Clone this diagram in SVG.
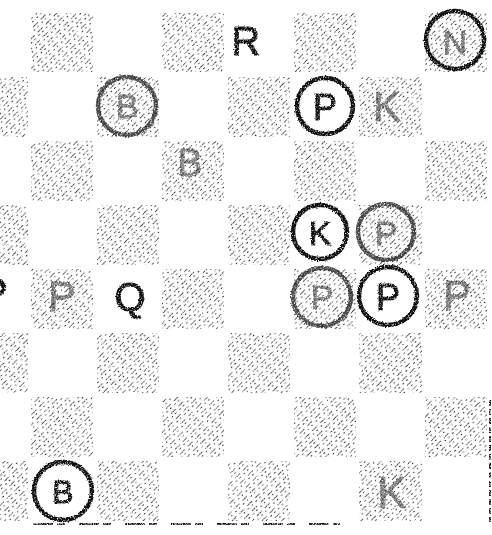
<svg xmlns="http://www.w3.org/2000/svg" width="492" height="535" viewBox="0 0 492 535">
<defs>
<pattern id="hatch" patternUnits="userSpaceOnUse" width="7" height="11" patternTransform="rotate(45)">
<line x1="0" y1="0" x2="0" y2="11" stroke="#111" stroke-width="1.5" stroke-dasharray="7 4"/>
<line x1="3.5" y1="2" x2="3.5" y2="9" stroke="#333" stroke-width="1.1" stroke-dasharray="2 3"/>
</pattern>
<filter id="grain" x="-10%" y="-10%" width="120%" height="120%">
<feTurbulence type="fractalNoise" baseFrequency="0.8" numOctaves="2" seed="4" result="n"/>
<feColorMatrix in="n" type="matrix" values="0 0 0 0 0  0 0 0 0 0  0 0 0 0 0  3 0 0 0 -0.75" result="m"/>
<feComposite in="SourceGraphic" in2="m" operator="in"/>
</filter>
<filter id="ink" x="-10%" y="-10%" width="120%" height="120%">
<feTurbulence type="fractalNoise" baseFrequency="0.7" numOctaves="2" seed="9" result="n"/>
<feDisplacementMap in="SourceGraphic" in2="n" scale="3" xChannelSelector="R" yChannelSelector="G" result="d"/>
<feColorMatrix in="n" type="matrix" values="0 0 0 0 0  0 0 0 0 0  0 0 0 0 0  3 0 0 0 -0.45" result="m"/>
<feComposite in="d" in2="m" operator="in"/>
</filter>
</defs>
<style>
.dk{fill:url(#hatch)}
.pc{font-family:"Liberation Sans","DejaVu Sans",sans-serif;fill:#111;stroke:#111;stroke-width:0.9;text-anchor:middle;dominant-baseline:central}
.ring{fill:none;stroke:#111;stroke-width:4.5}
.faint{opacity:0.55}
.mid{opacity:0.75}
</style>
<rect width="492" height="535" fill="#fff"/>
<g id="board" filter="url(#grain)">
<rect class="dk" x="31" y="13" width="62" height="59"/>
<rect class="dk" x="162" y="13" width="62" height="59"/>
<rect class="dk" x="294" y="13" width="62" height="59"/>
<rect class="dk" x="425" y="13" width="62" height="59"/>
<rect class="dk" x="-35" y="77" width="63" height="60"/>
<rect class="dk" x="97" y="77" width="62" height="60"/>
<rect class="dk" x="228" y="77" width="62" height="60"/>
<rect class="dk" x="359" y="77" width="63" height="60"/>
<rect class="dk" x="31" y="141" width="62" height="60"/>
<rect class="dk" x="162" y="141" width="62" height="60"/>
<rect class="dk" x="294" y="141" width="62" height="60"/>
<rect class="dk" x="425" y="141" width="62" height="60"/>
<rect class="dk" x="-35" y="205" width="63" height="60"/>
<rect class="dk" x="97" y="205" width="62" height="60"/>
<rect class="dk" x="228" y="205" width="62" height="60"/>
<rect class="dk" x="359" y="205" width="63" height="60"/>
<rect class="dk" x="31" y="269" width="62" height="60"/>
<rect class="dk" x="162" y="269" width="62" height="60"/>
<rect class="dk" x="294" y="269" width="62" height="60"/>
<rect class="dk" x="425" y="269" width="62" height="60"/>
<rect class="dk" x="-35" y="333" width="63" height="60"/>
<rect class="dk" x="97" y="333" width="62" height="60"/>
<rect class="dk" x="228" y="333" width="62" height="60"/>
<rect class="dk" x="359" y="333" width="63" height="60"/>
<rect class="dk" x="31" y="397" width="62" height="60"/>
<rect class="dk" x="162" y="397" width="62" height="60"/>
<rect class="dk" x="294" y="397" width="62" height="60"/>
<rect class="dk" x="425" y="397" width="62" height="60"/>
<rect class="dk" x="-35" y="461" width="63" height="60"/>
<rect class="dk" x="97" y="461" width="62" height="60"/>
<rect class="dk" x="228" y="461" width="62" height="60"/>
<rect class="dk" x="359" y="461" width="63" height="60"/>
</g>
<g id="edges" filter="url(#grain)" stroke="#111" stroke-width="2" fill="none">
<line x1="33" y1="524" x2="340" y2="524" stroke-dasharray="20 4 8 14"/>
<line x1="490" y1="400" x2="490" y2="522" stroke-dasharray="6 3"/>
</g>
<g id="pieces" filter="url(#ink)">
<g id="r0-R"><text class="pc" x="246" y="41" font-size="40">R</text></g>
<g id="r0-N"><circle class="ring" cx="455" cy="40" r="29"/><text class="pc faint" x="455" y="42" font-size="34">N</text></g>
<g id="r1-B"><circle class="ring mid" cx="127" cy="106" r="29"/><text class="pc faint" x="127" y="106" font-size="34">B</text></g>
<g id="r1-P"><circle class="ring" cx="325" cy="106" r="28"/><text class="pc" x="325" y="107" font-size="36">P</text></g>
<g id="r1-K" class="faint"><text class="pc" x="387" y="106" font-size="42">K</text></g>
<g id="r2-B" class="faint"><text class="pc" x="190" y="163" font-size="38">B</text></g>
<g id="r3-K"><circle class="ring" cx="320" cy="232" r="27"/><text class="pc" x="320" y="233" font-size="34">K</text></g>
<g id="r3-P"><circle class="ring mid" cx="386" cy="232" r="28"/><text class="pc faint" x="386" y="233" font-size="34">P</text></g>
<g id="r4-Pa"><text class="pc" x="-6" y="293" font-size="42">P</text></g>
<g id="r4-Pb" class="faint"><text class="pc" x="62" y="296" font-size="42">P</text></g>
<g id="r4-Q"><text class="pc" x="130" y="297" font-size="40">Q</text></g>
<g id="r4-Pc"><circle class="ring mid" cx="322" cy="297" r="29"/><text class="pc faint" x="322" y="297" font-size="34">P</text></g>
<g id="r4-Pd"><circle class="ring" cx="388" cy="296" r="29"/><text class="pc" x="388" y="297" font-size="36">P</text></g>
<g id="r4-Pe" class="faint"><text class="pc" x="457" y="295" font-size="42">P</text></g>
<g id="r7-B"><circle class="ring" cx="63" cy="491" r="29"/><text class="pc" x="63" y="492" font-size="32">B</text></g>
<g id="r7-K" class="faint"><text class="pc" x="392" y="492" font-size="44">K</text></g>
</g>
</svg>
